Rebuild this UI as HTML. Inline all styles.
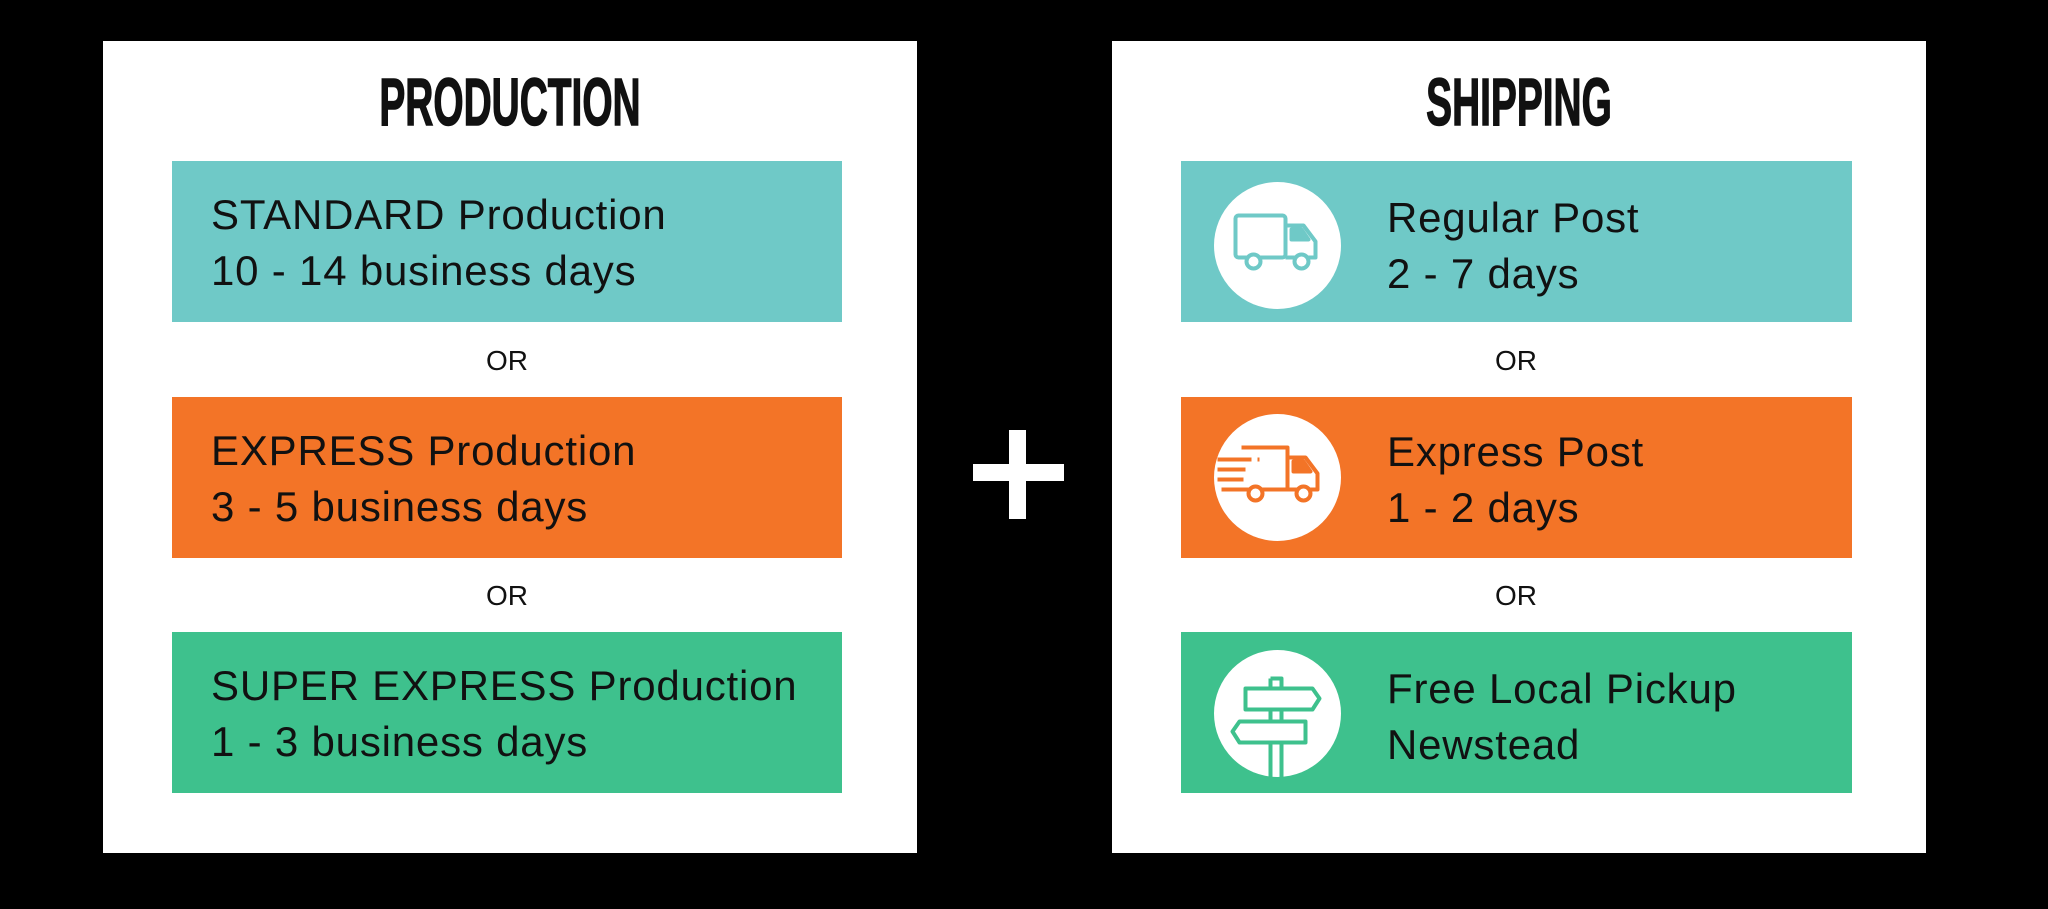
<!DOCTYPE html>
<html><head><meta charset="utf-8"><style>
*{margin:0;padding:0;box-sizing:border-box}
body{width:2048px;height:909px;background:#000;position:relative;overflow:hidden;font-family:"Liberation Sans",sans-serif}
.panel{position:absolute;background:#fff;top:41px;height:812px;width:814px}
.box{position:absolute;height:161px;width:670px}
.t{position:absolute;font-size:42px;letter-spacing:0.8px;color:#111;white-space:nowrap;line-height:1}
.or{position:absolute;font-size:28px;color:#111;width:670px;text-align:center;line-height:1}
.title{position:absolute;top:28px;font-weight:bold;font-size:67px;line-height:1;color:#111;transform:scaleX(0.58);transform-origin:center top;width:814px;text-align:center;left:0;-webkit-text-stroke:1.5px #111}
.teal{background:#6FC9C7}.orange{background:#F37427}.green{background:#3EC18D}
.plus{position:absolute;background:#fff}
svg{position:absolute}
</style></head><body>
<div class="panel" style="left:103px">
  <div class="title">PRODUCTION</div>
</div>
<div class="panel" style="left:1112px">
  <div class="title">SHIPPING</div>
</div>

<div class="box teal" style="left:172px;top:161px"></div>
<div class="box orange" style="left:172px;top:397px"></div>
<div class="box green" style="left:172px;top:632px"></div>
<div class="t" style="left:211px;top:194px">STANDARD Production</div>
<div class="t" style="left:211px;top:250px">10 - 14 business days</div>
<div class="t" style="left:211px;top:430px">EXPRESS Production</div>
<div class="t" style="left:211px;top:486px">3 - 5 business days</div>
<div class="t" style="left:211px;top:665px">SUPER EXPRESS Production</div>
<div class="t" style="left:211px;top:721px">1 - 3 business days</div>
<div class="or" style="left:172px;top:347px">OR</div>
<div class="or" style="left:172px;top:582px">OR</div>

<div class="plus" style="left:973px;top:464px;width:91px;height:17px"></div>
<div class="plus" style="left:1009px;top:430px;width:17px;height:89px"></div>

<div class="box teal" style="left:1181px;top:161px;width:671px"></div>
<div class="box orange" style="left:1181px;top:397px;width:671px"></div>
<div class="box green" style="left:1181px;top:632px;width:671px"></div>
<div class="or" style="left:1181px;top:347px">OR</div>
<div class="or" style="left:1181px;top:582px">OR</div>
<div class="t" style="left:1387px;top:197px">Regular Post</div>
<div class="t" style="left:1387px;top:253px">2 - 7 days</div>
<div class="t" style="left:1387px;top:431px">Express Post</div>
<div class="t" style="left:1387px;top:487px">1 - 2 days</div>
<div class="t" style="left:1387px;top:668px">Free Local Pickup</div>
<div class="t" style="left:1387px;top:724px">Newstead</div>

<svg style="left:1214px;top:182px" width="127" height="127" viewBox="-63.5 -63.5 127 127">
  <circle r="63.5" fill="#fff"/>
  <g fill="none" stroke="#6FC9C7" stroke-width="4" stroke-linejoin="round">
    <rect x="-42" y="-30" width="50" height="42" rx="3"/>
    <path d="M8 -20 H26 L38 -4 V12 H8"/>
    <path d="M14 -16 H24 L31 -6 H14 Z" fill="#6FC9C7"/>
    <circle cx="-24" cy="16" r="7" fill="#fff"/>
    <circle cx="24" cy="16" r="7" fill="#fff"/>
  </g>
</svg>
<svg style="left:1214px;top:414px" width="127" height="127" viewBox="-63.5 -63.5 127 127">
  <circle r="63.5" fill="#fff"/>
  <g fill="none" stroke="#F37427" stroke-width="4" stroke-linejoin="round">
    <path d="M-36 -30 H10 V12 H-36"/>
    <path d="M10 -20 H28 L40 -4 V12 H10"/>
    <path d="M16 -16 H26 L33 -6 H16 Z" fill="#F37427"/>
    <path d="M-60 -18 H-26 M-20 -18 H-18 M-60 -8 H-32 M-60 2 H-34 M-56 12 H-36"/>
    <circle cx="-22" cy="16" r="7" fill="#fff"/>
    <circle cx="26" cy="16" r="7" fill="#fff"/>
  </g>
</svg>
<svg style="left:1214px;top:650px" width="127" height="127" viewBox="-63.5 -63.5 127 127">
  <circle r="63.5" fill="#fff"/>
  <g fill="none" stroke="#3EC18D" stroke-width="4" stroke-linejoin="round">
    <path d="M-7 -35 H4 V-26 M-7 -35 V-26"/>
    <path d="M-32 -25 H35 L42 -15 L35 -4 H-32 Z"/>
    <path d="M-7 -4 V8 M4 -4 V8"/>
    <path d="M-38 8 H28 V29 H-38 L-45 18 Z"/>
    <path d="M-7 29 V64 M4 29 V64"/>
  </g>
</svg>
</body></html>
